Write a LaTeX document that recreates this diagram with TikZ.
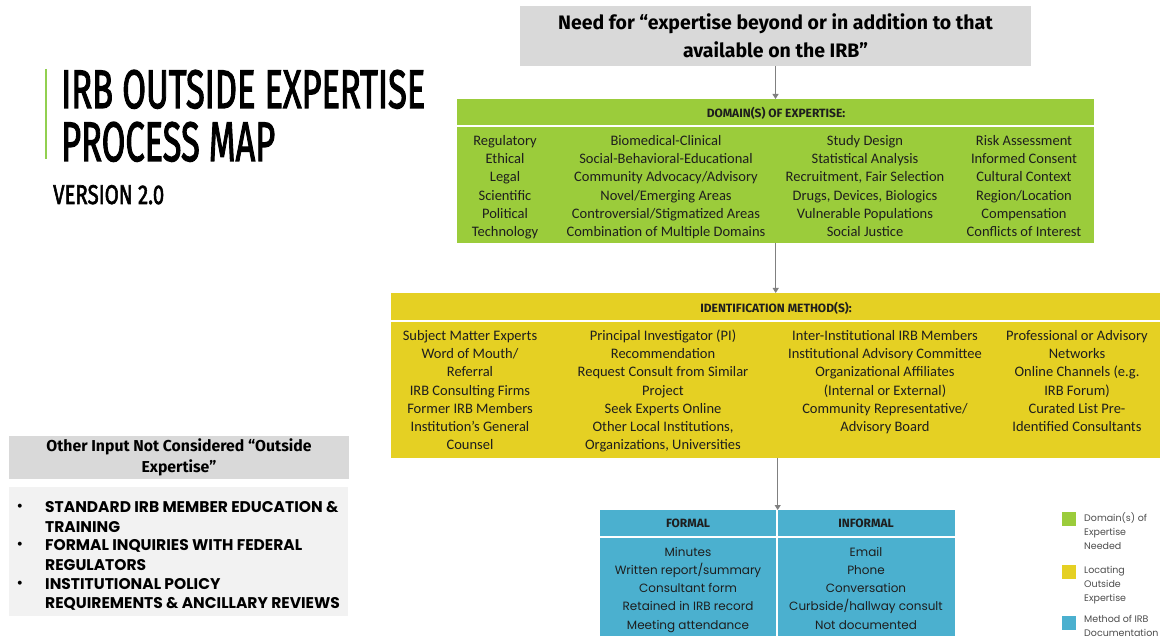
\documentclass[tikz,border=0pt]{standalone}
\usepackage{fontspec}
\setmainfont{Carlito}
\newfontfamily\condfont{Fira Sans}
\newfontfamily\titlefont[FakeBold=2.5]{Fira Sans}
\newfontfamily\geofont{Poppins}
\usetikzlibrary{arrows.meta}
\definecolor{domaingreen}{RGB}{155,204,59}
\definecolor{identyellow}{RGB}{229,208,35}
\definecolor{methodblue}{RGB}{75,176,207}
\definecolor{needgray}{RGB}{217,217,217}
\definecolor{notegray}{RGB}{242,242,242}
\definecolor{titlegreen}{RGB}{146,208,80}
\definecolor{inktext}{RGB}{30,30,30}
\definecolor{arrowgray}{RGB}{128,128,128}
% one column of centred entries, one node per line
\newcommand\listcol[6]{%
  \foreach \t [count=\i] in {#6}
    \node[#4] (#1-\i) at (#2,{#3+#5*(\i-1)}) {\t};}

\begin{document}
\begin{tikzpicture}[x=1pt,y=-1pt,inner sep=0pt,>={Triangle[width=6pt,length=5pt]}]
\tikzset{panel/.style={anchor=north west,inner sep=0pt},
  item/.style={font=\fontsize{14.5}{16}\selectfont,text=inktext,text height=9pt,text depth=3pt},
  blueitem/.style={font=\geofont\fontsize{12}{14}\selectfont,text=inktext,text height=9pt,text depth=3pt},
  head/.style={font=\condfont\bfseries\fontsize{12}{14}\selectfont,text=inktext},
  sep/.style={white,line width=1.5pt},
  link/.style={->,arrowgray,line width=1.1pt},
  key/.style={minimum size=14pt},
  keytext/.style={anchor=west,align=left,text=black!70,font=\geofont\fontsize{9.5}{14}\selectfont}}
\useasboundingbox (0,0) rectangle (1163,639);

% title
\draw[titlegreen,line width=2pt] (46,69) -- (46,159);
\node[anchor=base west] (title1) at (61,108) {\resizebox{364pt}{38pt}{\titlefont IRB OUTSIDE EXPERTISE}};
\node[anchor=base west] (title2) at (61,161) {\resizebox{214pt}{39pt}{\titlefont PROCESS MAP}};
\node[anchor=base west] (title3) at (53,204) {\resizebox{111pt}{19pt}{\titlefont VERSION 2.0}};

% need
\node[fill=needgray,minimum width=511pt,minimum height=60pt,align=center,
  font=\condfont\bfseries\fontsize{19.5}{28}\selectfont] (need) at (775.5,36)
  {Need for “expertise beyond or in addition to that\\available on the IRB”};

% domains
\node[panel,fill=domaingreen,minimum width=637pt,minimum height=144pt] (domain) at (457,99) {};
\draw[sep] (457,126) -- (1094,126);
\node[head] (domainhead) at (776,113) {DOMAIN(S) OF EXPERTISE:};
\listcol{dom1}{505}{142.5}{item}{18.2}{Regulatory,Ethical,Legal,Scientific,Political,Technology}
\listcol{dom2}{666}{142.5}{item}{18.2}{Biomedical-Clinical,Social-Behavioral-Educational,Community Advocacy/Advisory,Novel/Emerging Areas,Controversial/Stigmatized Areas,Combination of Multiple Domains}
\listcol{dom3}{865}{142.5}{item}{18.2}{Study Design,Statistical Analysis,{Recruitment, Fair Selection},{Drugs, Devices, Biologics},Vulnerable Populations,Social Justice}
\listcol{dom4}{1024}{142.5}{item}{18.2}{Risk Assessment,Informed Consent,Cultural Context,Region/Location,Compensation,Conflicts of Interest}

% identification
\node[panel,fill=identyellow,minimum width=769pt,minimum height=165pt] (ident) at (391,293) {};
\draw[sep] (391,321) -- (1160,321);
\node[head] (identhead) at (776,308) {IDENTIFICATION METHOD(S):};
\listcol{idm1}{470}{337.5}{item}{18.2}{Subject Matter Experts,Word of Mouth/,Referral,IRB Consulting Firms,Former IRB Members,Institution’s General,Counsel}
\listcol{idm2}{663}{337.5}{item}{18.2}{Principal Investigator (PI),Recommendation,Request Consult from Similar,Project,Seek Experts Online,{Other Local Institutions,},{Organizations, Universities}}
\listcol{idm3}{885}{337.5}{item}{18.2}{Inter-Institutional IRB Members,Institutional Advisory Committee,Organizational Affiliates,{(Internal or External)},Community Representative/,Advisory Board}
\listcol{idm4}{1077}{337.5}{item}{18.2}{Professional or Advisory,Networks,{Online Channels (e.g.},{IRB Forum)},Curated List Pre-,Identified Consultants}

% documentation
\node[panel,fill=methodblue,minimum width=355pt,minimum height=126pt] (method) at (600,510) {};
\draw[sep] (600,537) -- (955,537);
\draw[sep] (777,510) -- (777,636);
\node[head] (formal) at (688,523) {FORMAL};
\node[head] (informal) at (866,523) {INFORMAL};
\listcol{frm}{688}{553}{blueitem}{18.3}{Minutes,Written report/summary,Consultant form,Retained in IRB record,Meeting attendance}
\listcol{inf}{866}{553}{blueitem}{18.3}{Email,Phone,Conversation,Curbside/hallway consult,Not documented}

\draw[link] (need.south) -- (domain.north -| need.south);
\draw[link] (domain.south) -- (ident.north -| domain.south);
\draw[link] (method.north |- ident.south) -- (method.north);

% other input
\node[fill=needgray,minimum width=340pt,minimum height=43pt,align=center,
  font=\condfont\bfseries\fontsize{15.8}{21}\selectfont] (otherhead) at (179,457.5)
  {Other Input Not Considered “Outside\\Expertise”};
\node[panel,fill=notegray,minimum width=339pt,minimum height=129pt] (otherlist) at (9,487) {};
\foreach \y [count=\i] in {507,545,584}
  \node[font=\geofont\bfseries\fontsize{13}{15}\selectfont] (dot-\i) at (20,\y) {•};
\foreach \t/\y [count=\i] in {STANDARD IRB MEMBER EDUCATION \&/507,TRAINING/527,FORMAL INQUIRIES WITH FEDERAL/545,REGULATORS/565,INSTITUTIONAL POLICY/584,REQUIREMENTS \& ANCILLARY REVIEWS/603}
  \node[anchor=west,font=\geofont\bfseries\fontsize{15.5}{17}\selectfont,text height=11pt,text depth=0pt] (note-\i) at (45,\y) {\t};

% key
\node[key,fill=domaingreen] (key1) at (1069,519) {};
\node[keytext] (keytext1) at (1084,531) {Domain(s) of\\Expertise\\Needed};
\node[key,fill=identyellow] (key2) at (1069,572) {};
\node[keytext] (keytext2) at (1084,585) {Locating\\Outside\\Expertise};
\node[key,fill=methodblue] (key3) at (1069,623) {};
\node[keytext] (keytext3) at (1084,625.5) {Method of IRB\\Documentation};
\end{tikzpicture}
\end{document}
